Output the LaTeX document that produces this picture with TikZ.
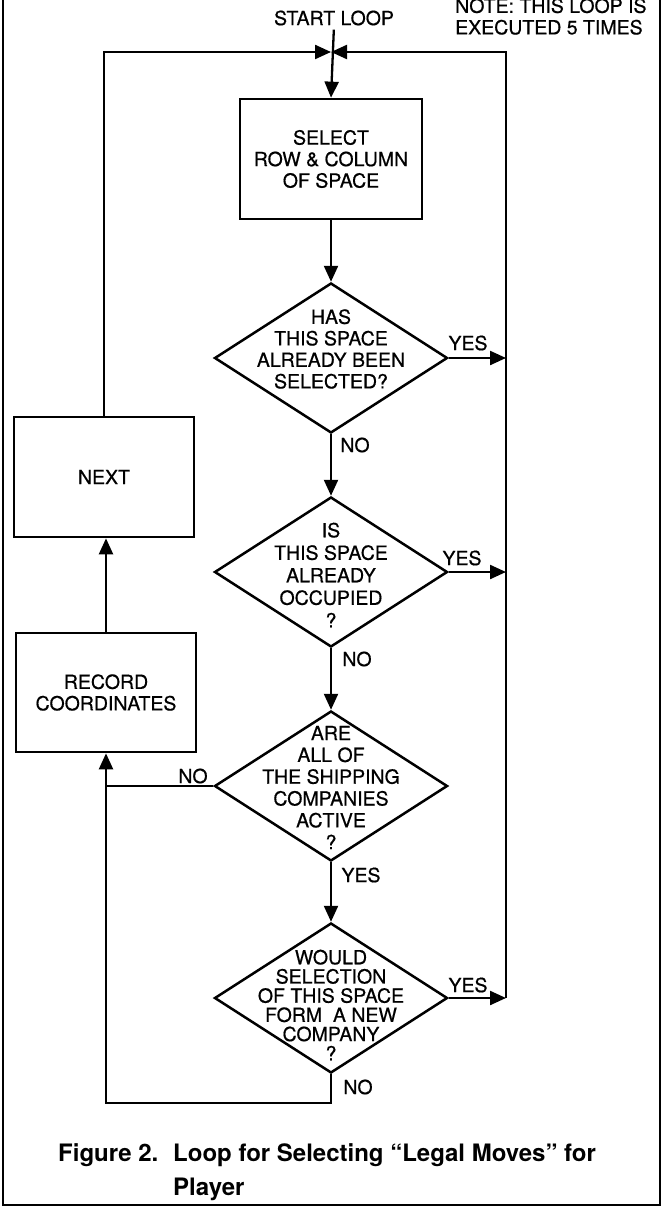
\documentclass[tikz,border=0pt]{standalone}
\usepackage{fontspec}
\setmainfont{TeX Gyre Heros}
\newfontfamily\diagfont{TeX Gyre Heros}[FakeBold=0.6]
\usetikzlibrary{arrows.meta,shapes.geometric}
\begin{document}
\begin{tikzpicture}[x=1pt,y=-1pt,
  lbl/.style={font=\diagfont\fontsize{19.5}{21.5}\selectfont, inner sep=0pt, align=center},
  procbox/.style={draw, line width=2.7pt, minimum width=182pt, minimum height=120pt, inner sep=0pt, align=center, font=\diagfont\fontsize{19.5}{21.5}\selectfont},
  decbox/.style={draw, diamond, line width=2.5pt, minimum width=233pt, minimum height=150pt, inner sep=0pt},
  conn/.style={line width=2.3pt},
  arr/.style={conn, -{Triangle[length=16pt,width=14pt]}},
  framed/.style={line width=2.8pt},
  capf/.style={font=\fontsize{24}{28}\selectfont\bfseries, inner sep=0pt}]
\useasboundingbox (0,0) rectangle (667,1209);
\clip (0,0) rectangle (667,1209);
\draw[framed] (3,-10) -- (3,1205) -- (660,1205) -- (660,-10);

\node[lbl] (start) at (334,18) {START LOOP};
\node[lbl, align=left, anchor=west] (note) at (455,16.5) {NOTE: THIS LOOP IS\\EXECUTED 5 TIMES};
\coordinate (J) at (331,52);
\coordinate (RT) at (506,52);

\node[procbox] (b1) at (331,159) {SELECT\\ROW \& COLUMN\\OF SPACE};
\node[decbox] (d1) at (331,358) {};
\node[lbl] (d1t) at (331,349) {HAS\\THIS SPACE\\ALREADY BEEN\\SELECTED?};
\node[decbox] (d2) at (331,572) {};
\node[lbl, font=\diagfont\fontsize{19.5}{22.5}\selectfont] (d2t) at (331,575) {IS\\THIS SPACE\\ALREADY\\OCCUPIED\\?};
\node[decbox] (d3) at (331,786) {};
\node[lbl, font=\diagfont\fontsize{19.5}{21.8}\selectfont] (d3t) at (331,787.5) {ARE\\ALL OF\\THE SHIPPING\\COMPANIES\\ACTIVE\\?};
\node[decbox] (d4) at (331,998) {};
\node[lbl, font=\diagfont\fontsize{19.5}{19.2}\selectfont] (d4t) at (331,1005) {WOULD\\SELECTION\\OF THIS SPACE\\FORM~ A NEW\\COMPANY\\?};
\node[procbox, minimum width=180pt] (next) at (104,477) {NEXT};
\node[procbox, minimum width=180pt, minimum height=119pt] (rec) at (106,692.5) {RECORD\\COORDINATES};

\node[lbl] (y1) at (468,343) {YES};
\node[lbl] (y2) at (462,558) {YES};
\node[lbl] (y3) at (361,875) {YES};
\node[lbl] (y4) at (468,985) {YES};
\node[lbl] (n1) at (355,445) {NO};
\node[lbl] (n2) at (357,659) {NO};
\node[lbl] (n3) at (193,776) {NO};
\node[lbl] (n4) at (358,1087) {NO};

\draw[arr, shorten <=4pt] (start.south) -- (b1.north);
\draw[arr] (b1.south) -- (d1.north);
\draw[arr] (d1.south) -- (d2.north);
\draw[arr] (d2.south) -- (d3.north);
\draw[arr] (d3.south) -- (d4.north);
\draw[arr] (d1.east) -- (d1.east -| RT);
\draw[arr] (d2.east) -- (d2.east -| RT);
\draw[arr] (d4.east) -- (d4.east -| RT);
\draw[arr] (d4.east -| RT) -- (RT) -- (J);
\draw[arr] (next.north) |- (J);
\draw[arr] (rec.north) -- (rec.north |- next.south);
\draw[arr] (d4.south) -- ++(0,29) -| (rec.south);
\draw[conn] (d3.west) -- (d3.west -| rec.south);

\node[capf, anchor=base west] (fig) at (58,1161) {Figure 2.};
\node[capf, anchor=base west] (cap1) at (173,1161) {Loop for Selecting “Legal Moves” for};
\node[capf, anchor=base west] (cap2) at (173,1195) {Player};
\end{tikzpicture}
\end{document}
